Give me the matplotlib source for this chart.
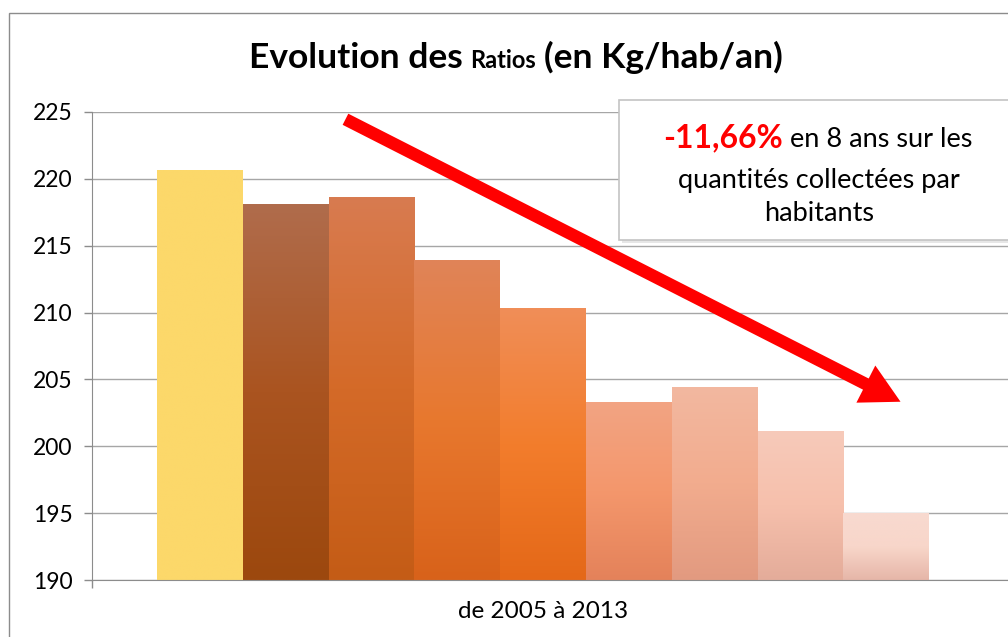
import matplotlib as mpl

mpl.use("Agg")

import matplotlib.pyplot as plt
import numpy as np
from matplotlib.colors import to_rgb
from matplotlib.patches import FancyArrowPatch, Rectangle
from matplotlib.transforms import IdentityTransform

plt.rcParams["font.family"] = ["Lato", "DejaVu Sans"]

years = [2005, 2006, 2007, 2008, 2009, 2010, 2011, 2012, 2013]
ratios = [220.6, 218.1, 218.6, 213.9, 210.3, 203.3, 204.4, 201.1, 195.0]
y_ticks = [190, 195, 200, 205, 210, 215, 220, 225]
x_label = "de 2005 à 2013"

# gradient stops per bar: top, middle, bottom
bar_colors = [
    ("#fcd86a", "#fcd86a", "#fcd86a"),
    ("#b06c4c", "#aa5420", "#9c480e"),
    ("#d87b50", "#d46a28", "#c45c16"),
    ("#e08458", "#e8782e", "#d8621a"),
    ("#f08e58", "#f37d2c", "#e46818"),
    ("#f2a483", "#f4976c", "#e4825a"),
    ("#f3b8a0", "#f2ac8e", "#e29a80"),
    ("#f7caba", "#f6c0ac", "#e4ac9a"),
    ("#f8dad0", "#f8d6ca", "#e6b6a8"),
]

W, H = 1008, 637
fig = plt.figure(figsize=(W / 100, H / 100), dpi=100)
px = IdentityTransform()

# chart frame
fig.patches.append(Rectangle((9, -10), W + 20, H - 13 + 10, transform=px,
                             fill=False, ec="#8c8c8c", lw=1.0))

ax = fig.add_axes([92 / W, 57 / H, (W - 92) / W, 468 / H])
ymin = y_ticks[0]
for i, (v, cols) in enumerate(zip(ratios, bar_colors)):
    top, mid, bot = (np.array(to_rgb(c)) for c in cols)
    t = np.linspace(0, 1, 200)[:, None]
    grad = np.where(t < 0.5, bot + (mid - bot) * (t / 0.5), mid + (top - mid) * ((t - 0.5) / 0.5))
    ax.imshow(grad[:, None, :], extent=[i - 0.5, i + 0.5, ymin, v], origin="lower",
              aspect="auto", interpolation="bilinear", zorder=2)

x_left = -0.5 - 65 / 85.8
ax.set_xlim(x_left, x_left + (W - 92) / 85.8)
ax.set_ylim(ymin, y_ticks[-1])
ax.set_yticks(y_ticks)
ax.set_xticks([x_left])
ax.set_xticklabels([""])
ax.tick_params(axis="y", direction="out", length=6, width=1, colors="#8c8c8c",
               labelcolor="black", labelsize=16.5, pad=8)
ax.tick_params(axis="x", direction="out", length=6, width=1, colors="#8c8c8c")
ax.grid(axis="y", color="#a6a6a6", lw=1.0)
ax.set_axisbelow(True)
for s in ["top", "right"]:
    ax.spines[s].set_visible(False)
for s in ["left", "bottom"]:
    ax.spines[s].set_color("#8c8c8c")
ax.text(4, ymin - 2.35, x_label, ha="center", va="center", fontsize=17.5)

renderer = fig.canvas.get_renderer()


def mixed_line(parts, cx, y, gap=0.0):
    texts = []
    for s, kw in parts:
        texts.append(fig.text(0, y, s, transform=px, va="baseline", **kw))
    widths = [t.get_window_extent(renderer).width for t in texts]
    total = sum(widths) + gap * (len(texts) - 1)
    x = cx - total / 2
    for t, w in zip(texts, widths):
        t.set_x(x)
        x += w + gap


# title
mixed_line([("Evolution des", dict(fontsize=25.5, fontweight="bold")),
            ("Ratios", dict(fontsize=17, fontweight="bold")),
            ("(en Kg/hab/an)", dict(fontsize=25.5, fontweight="bold"))],
           516, H - 68, gap=8)

# annotation box
fig.patches.append(Rectangle((622, H - 243), 400, 140, transform=px,
                             fc="#e6e6e6", ec="none", zorder=5))
fig.patches.append(Rectangle((619, H - 240), 400, 140, transform=px,
                             fc="white", ec="#c4c4c4", lw=1.2, zorder=6))
mixed_line([("-11,66%", dict(fontsize=23, fontweight="bold", color="#ff0000", zorder=7)),
            ("en 8 ans sur les", dict(fontsize=19.5, zorder=7))],
           818, H - 147, gap=7)
fig.text(819, H - 188, "quantités collectées par", transform=px, ha="center",
         va="baseline", fontsize=19.5, zorder=7)
fig.text(819, H - 221, "habitants", transform=px, ha="center",
         va="baseline", fontsize=19.5, zorder=7)

# trend arrow
arrow = FancyArrowPatch((343, H - 118), (903, H - 403), transform=px,
                        arrowstyle="simple,head_length=2.8,head_width=3.0,tail_width=0.9",
                        mutation_scale=10, fc="#ff0000", ec="none", zorder=8)
fig.patches.append(arrow)

fig.savefig("out.png", dpi=100)
